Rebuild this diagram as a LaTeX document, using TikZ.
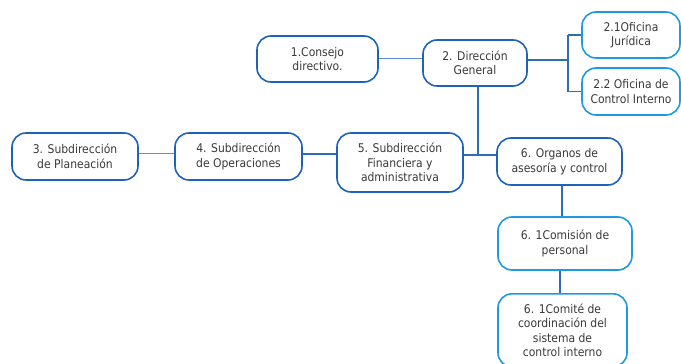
\documentclass[tikz,border=0pt]{standalone}
\usepackage{fontspec}
\setmainfont{DejaVu Sans Condensed}
\definecolor{dblue}{HTML}{1F63B8}
\definecolor{lblue}{HTML}{1E9BE0}
\definecolor{lnblue}{HTML}{2E6DB8}
\definecolor{lnlight}{HTML}{5B8FD0}
\definecolor{txt}{HTML}{3A3A3A}
\begin{document}
\begin{tikzpicture}[x=1pt,y=-1pt,
  orgbox/.style={draw=dblue,line width=1.6pt,rounded corners=14pt,fill=white,
    align=center,text=txt,font=\fontsize{12}{14.5}\selectfont,inner sep=0pt},
  subbox/.style={orgbox,draw=lblue},
  conn/.style={draw=lnblue,line width=1.3pt},
  connl/.style={draw=lnlight,line width=1pt}]
\useasboundingbox (0,0) rectangle (681,364);
\node[orgbox,minimum width=121pt,minimum height=46pt] (c1) at (317.5,59) {1.Consejo\\directivo.};
\node[orgbox,minimum width=104pt,minimum height=46pt] (c2) at (475,63) {2. Dirección\\General};
\node[subbox,minimum width=98pt,minimum height=46pt] (c21) at (631,35) {2.1Oficina\\Jurídica};
\node[subbox,minimum width=98pt,minimum height=47pt] (c22) at (631,91.5) {2.2 Oficina de\\Control Interno};
\node[orgbox,minimum width=126pt,minimum height=47pt] (c3) at (75,156.5) {3. Subdirección\\de Planeación};
\node[orgbox,minimum width=127pt,minimum height=47pt] (c4) at (238.5,156.5) {4. Subdirección\\de Operaciones};
\node[orgbox,minimum width=126pt,minimum height=59pt] (c5) at (400,162.5) {5. Subdirección\\Financiera y\\administrativa};
\node[orgbox,minimum width=125pt,minimum height=47pt] (c6) at (559.5,161.5) {6. Organos de\\asesoría y control};
\node[subbox,minimum width=134pt,minimum height=53pt] (c61) at (565,243.5) {6. 1Comisión de\\personal};
\node[subbox,minimum width=129pt,minimum height=73pt,anchor=north] (c62) at (562.5,293) {6. 1Comité de\\coordinación del\\sistema de\\control interno};
\coordinate (j2) at (568,0);
\coordinate (j5) at (478,0);
\draw[connl] (c1.east |- 0,58) -- (c2.west |- 0,58);
\draw[connl] (c3.east |- 0,153) -- (c4.west |- 0,153);
\draw[conn] (c4.east |- 0,154) -- (c5.west |- 0,154);
\draw[conn] (c2.east |- 0,60) -- (j2 |- 0,60);
\draw[conn] (j2 |- c21.west) -- (j2 |- c22.west);
\draw[conn] (j2 |- c21.west) -- (c21.west);
\draw[conn] (j2 |- c22.west) -- (c22.west);
\draw[conn] (j5 |- c2.south) -- (j5 |- 0,155);
\draw[conn] (c5.east |- 0,155) -- (c6.west |- 0,155);
\draw[conn] (c6.south -| 562,0) -- (c61.north -| 562,0);
\draw[conn] (c61.south -| 560,0) -- (c62.north -| 560,0);
\end{tikzpicture}
\end{document}
